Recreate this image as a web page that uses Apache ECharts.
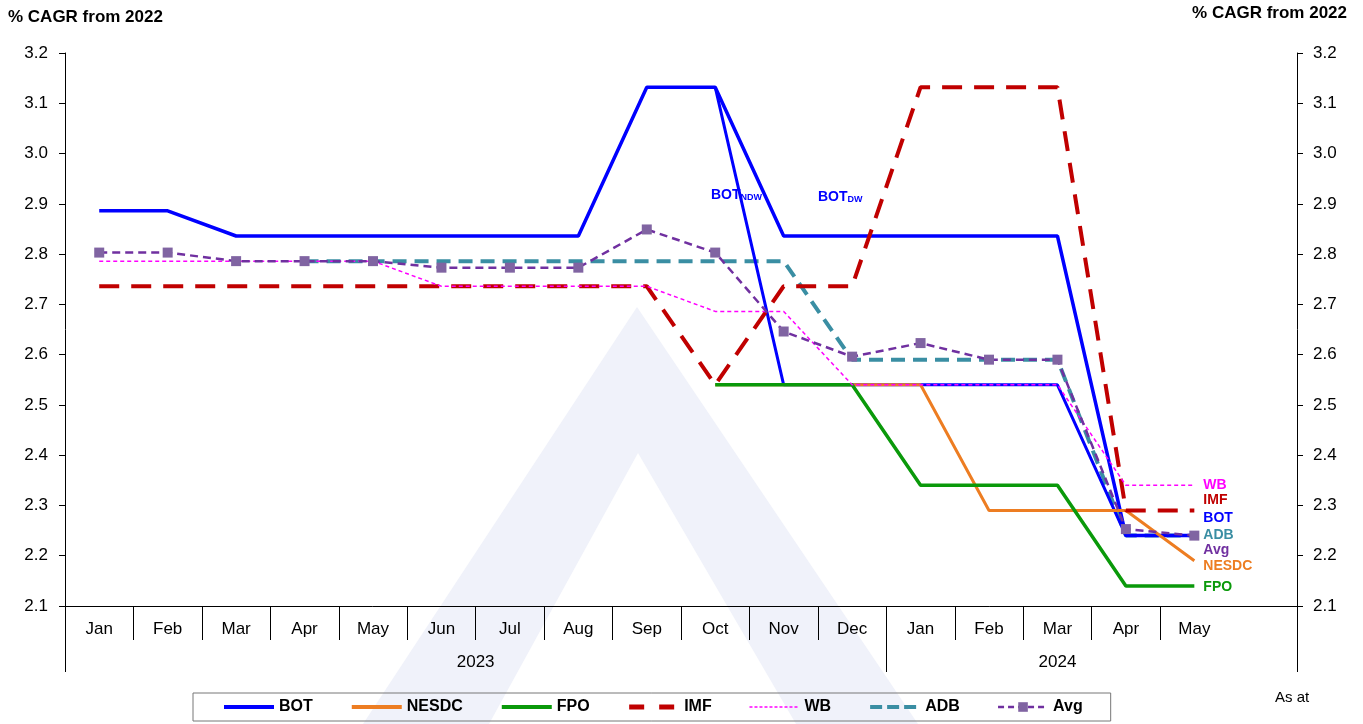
<!DOCTYPE html>
<html>
<head>
<meta charset="utf-8">
<script src="https://cdn.jsdelivr.net/npm/echarts@6/dist/echarts.min.js"></script>
<style>
html,body{margin:0;padding:0;background:#fff;}
#c{width:1363px;height:724px;}
</style>
</head>
<body>
<div id="c"></div>
<script>
var months = ['Jan','Feb','Mar','Apr','May','Jun','Jul','Aug','Sep','Oct','Nov','Dec','Jan','Feb','Mar','Apr','May',''];
var yearSlots = 37; // half-month positions for the year row
var yearLabels = {12:'2023', 29:'2024'};
var yearTicks = [0, 24, 36];
var yTicks = [2.1, 3.2, 0.1];

var bot    = [2.886,2.886,2.836,2.836,2.836,2.836,2.836,2.836,3.132,3.132,2.836,2.836,2.836,2.836,2.836,2.24,2.24];
var botNdw = [null,null,null,null,null,null,null,null,null,3.132,2.54,2.54,2.54,2.54,2.54,2.24,2.24];
var nesdc  = [null,null,null,null,null,null,null,null,null,2.54,2.54,2.54,2.54,2.29,2.29,2.29,2.19];
var fpo    = [null,null,null,null,null,null,null,null,null,2.54,2.54,2.54,2.34,2.34,2.34,2.14,2.14];
var imf    = [2.736,2.736,2.736,2.736,2.736,2.736,2.736,2.736,2.736,2.54,2.736,2.736,3.132,3.132,3.132,2.29,2.29];
var wb     = [2.786,2.786,2.786,2.786,2.786,2.736,2.736,2.736,2.736,2.686,2.686,2.54,2.54,2.54,2.54,2.34,2.34];
var adb    = [null,null,null,2.786,2.786,2.786,2.786,2.786,2.786,2.786,2.786,2.59,2.59,2.59,2.59,2.24,2.24];
var avg    = [2.803,2.803,2.786,2.786,2.786,2.773,2.773,2.773,2.849,2.803,2.646,2.596,2.623,2.59,2.59,2.253,2.24];

var yearData = [];
for (var i = 0; i < yearSlots; i++) yearData.push(yearLabels[i] || '');

var FONT = 'Liberation Sans, Arial, sans-serif';
function endLbl(text, color, dy) {
  return {show:true, formatter:text, color:color, fontWeight:'bold', fontSize:14,
          fontFamily:FONT, distance:9, offset:[0,dy]};
}
var noSym = {color:'rgba(0,0,0,0)', borderColor:'rgba(0,0,0,0)', borderWidth:0};
function subLabel(main, sub) {
  return {text:'{a|' + main + '}{b|' + sub + '}', fontFamily:FONT,
    rich:{a:{fontSize:14, fontWeight:'bold', fill:'#0000ff', color:'#0000ff', lineHeight:18, verticalAlign:'bottom'},
          b:{fontSize:9, fontWeight:'bold', fill:'#0000ff', color:'#0000ff', lineHeight:14, verticalAlign:'bottom', padding:[5,0,0,0]}}};
}

var chart = echarts.init(document.getElementById('c'), null, {renderer:'canvas'});
var option = {
  animation:false,
  backgroundColor:'#ffffff',
  textStyle:{fontFamily:FONT},
  title:[
    {text:'% CAGR from 2022', left:3, top:4, textStyle:{fontSize:17, fontWeight:'bold', color:'#000', fontFamily:FONT}},
    {text:'% CAGR from 2022', right:11, top:0, textStyle:{fontSize:17, fontWeight:'bold', color:'#000', fontFamily:FONT}}
  ],
  graphic:[
    {type:'polygon', z:-10, silent:true,
     shape:{points:[[637,307],[918,724],[796,724],[638,453],[489,724],[363,724]]},
     style:{fill:'#f0f2fa'}},
    {type:'text', left:1275, top:690, style:{text:'As at', fontSize:15, fill:'#000', fontFamily:FONT}},
    {type:'text', left:711, top:188, style:subLabel('BOT','NDW')},
    {type:'text', left:818, top:190, style:subLabel('BOT','DW')}
  ],
  legend:{
    left:193, top:693,
    data:[
      {name:'BOT', itemStyle:noSym, lineStyle:{width:4, type:'solid'}},
      {name:'NESDC', itemStyle:noSym, lineStyle:{width:4, type:'solid'}},
      {name:'FPO', itemStyle:noSym, lineStyle:{width:4, type:'solid'}},
      {name:'IMF', itemStyle:noSym, lineStyle:{width:5, type:[15,15]}},
      {name:'WB', itemStyle:noSym, lineStyle:{width:1.5, type:[3,2]}},
      {name:'ADB', itemStyle:noSym, lineStyle:{width:4, type:[12,5]}},
      {name:'Avg', lineStyle:{width:2.5, type:[6,4]}}
    ],
    itemWidth:50, itemHeight:12, itemGap:37,
    padding:[6,28,6,29],
    borderColor:'#777', borderWidth:1,
    textStyle:{fontSize:16, fontWeight:'bold', color:'#000', fontFamily:FONT}
  },
  grid:{left:65, right:66, top:53, bottom:118, containLabel:false},
  xAxis:[
    {type:'category', data:months, boundaryGap:true, position:'bottom',
     axisLine:{show:true, lineStyle:{color:'#000', width:1}},
     axisTick:{show:true, length:34, lineStyle:{color:'#000'}, interval:function(i){return i < 17;}},
     axisLabel:{show:true, interval:0, margin:15, fontSize:17, color:'#000', fontFamily:FONT},
     splitLine:{show:false}},
    {type:'category', data:yearData, boundaryGap:false, position:'bottom',
     axisLine:{show:false},
     axisTick:{show:true, length:66, lineStyle:{color:'#000'}, interval:function(i){return yearTicks.indexOf(i) >= 0;}},
     axisLabel:{show:true, interval:function(i){return !!yearLabels[i];}, margin:48, fontSize:17, color:'#000', fontFamily:FONT},
     splitLine:{show:false}}
  ],
  yAxis:[
    {type:'value', min:yTicks[0], max:yTicks[1], interval:yTicks[2], position:'left',
     axisLine:{show:true, lineStyle:{color:'#000'}},
     axisTick:{show:true, inside:false, length:6, lineStyle:{color:'#000'}},
     axisLabel:{margin:17, fontSize:17, color:'#000', fontFamily:FONT, formatter:function(v){return v.toFixed(1);}},
     splitLine:{show:false}},
    {type:'value', min:yTicks[0], max:yTicks[1], interval:yTicks[2], position:'right',
     axisLine:{show:true, lineStyle:{color:'#000'}},
     axisTick:{show:true, inside:false, length:6, lineStyle:{color:'#000'}},
     axisLabel:{margin:16, fontSize:17, color:'#000', fontFamily:FONT, formatter:function(v){return v.toFixed(1);}},
     splitLine:{show:false}}
  ],
  series:[
    {name:'ADB', type:'line', data:adb, symbol:'none', z:2,
     lineStyle:{color:'#3a8ea3', width:4, type:[14,8]}, itemStyle:{color:'#3a8ea3'},
     endLabel:endLbl('ADB','#3a8ea3',0)},
    {name:'BOT_NDW', type:'line', data:botNdw, symbol:'none', z:3,
     lineStyle:{color:'#0000ff', width:3}, itemStyle:{color:'#0000ff'}},
    {name:'BOT', type:'line', data:bot, symbol:'none', z:3,
     lineStyle:{color:'#0000ff', width:3.5}, itemStyle:{color:'#0000ff'},
     endLabel:endLbl('BOT','#0000ff',-17)},
    {name:'NESDC', type:'line', data:nesdc, symbol:'none', z:4,
     lineStyle:{color:'#ed7d22', width:3}, itemStyle:{color:'#ed7d22'},
     endLabel:endLbl('NESDC','#ed7d22',5)},
    {name:'FPO', type:'line', data:fpo, symbol:'none', z:5,
     lineStyle:{color:'#0a990a', width:3.5}, itemStyle:{color:'#0a990a'},
     endLabel:endLbl('FPO','#0a990a',1)},
    {name:'IMF', type:'line', data:imf, symbol:'none', z:6,
     lineStyle:{color:'#c00000', width:4, type:[20,12]}, itemStyle:{color:'#c00000'},
     endLabel:endLbl('IMF','#c00000',-10)},
    {name:'WB', type:'line', data:wb, symbol:'none', z:7,
     lineStyle:{color:'#ff00ff', width:1.5, type:[4,3]}, itemStyle:{color:'#ff00ff'},
     endLabel:endLbl('WB','#ff00ff',0)},
    {name:'Avg', type:'line', data:avg, symbol:'rect', symbolSize:10, showSymbol:true, z:8,
     lineStyle:{color:'#7030a0', width:2.5, type:[8,5]}, itemStyle:{color:'#8064a2'},
     endLabel:endLbl('Avg','#7030a0',15)}
  ]
};
chart.setOption(option);
</script>
</body>
</html>
